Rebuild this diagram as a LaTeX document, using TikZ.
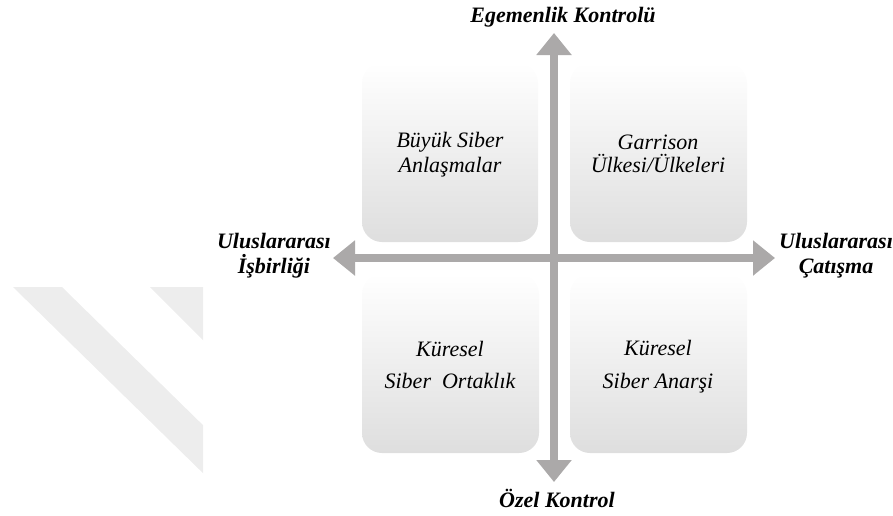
\documentclass[tikz,border=0pt]{standalone}
\usepackage{fontspec}
\setmainfont{Liberation Serif}
\usetikzlibrary{arrows.meta}

\definecolor{axisgray}{RGB}{171,169,169}
\definecolor{boxgray}{RGB}{222,222,222}
\definecolor{markgray}{RGB}{237,237,237}

\tikzset{
  quadbox/.style={rounded corners=20pt, top color=white, middle color=white,
    bottom color=boxgray, draw=none},
  quadtext/.style={align=center, font=\fontsize{22}{25}\selectfont\itshape,
    inner sep=0pt},
  axislabel/.style={align=center, font=\fontsize{22}{25}\selectfont\bfseries\itshape,
    inner sep=0pt},
  axisarrow/.style={draw=axisgray, line width=8.5pt,
    arrows={Triangle[width=34pt,length=22pt,fill=axisgray]-Triangle[width=34pt,length=22pt,fill=axisgray]}},
}

\begin{document}
\begin{tikzpicture}[x=1pt,y=-1pt]
\useasboundingbox (0,0) rectangle (893,515);

% faint diagonal bands on the left
\begin{scope}
  \clip (0,0) rectangle (203,515);
  \fill[markgray] (13,287) -- (62,287) -- (260,481) -- (211,481) -- cycle;
  \fill[markgray] (150,287) -- (230,287) -- (290,347) -- (210,347) -- cycle;
\end{scope}

% quadrant panels
\path[quadbox] (362,63) rectangle (538,242);
\path[quadbox] (570,63) rectangle (747,242);
\path[quadbox] (362,274) rectangle (539,453);
\path[quadbox] (570,274) rectangle (747,453);

\node[quadtext] (tl) at (450,155) {Büyük Siber\\Anlaşmalar};
\node[quadtext, font=\fontsize{22}{23}\selectfont\itshape] (tr) at (658,154) {Garrison\\Ülkesi/Ülkeleri};
\node[quadtext, font=\fontsize{22}{32}\selectfont\itshape] (bl) at (450,365) {Küresel\\Siber\ \ Ortaklık};
\node[quadtext, font=\fontsize{22}{33}\selectfont\itshape] (br) at (658,367) {Küresel\\Siber Anarşi};

% axis end points
\coordinate (top) at (554,33);
\coordinate (bottom) at (554,482);
\coordinate (left) at (333,258);
\coordinate (right) at (775,258);

\draw[axisarrow] (bottom) -- (top);
\draw[axisarrow] (left) -- (right);

% axis labels
\node[axislabel] (sov) at (563,17) {Egemenlik Kontrolü};
\node[axislabel] (priv) at (557,498) {Özel Kontrol};
\node[axislabel, anchor=east] (coop) at (331,256) {Uluslararası\\İşbirliği};
\node[axislabel, anchor=west] (conf) at (779,256) {Uluslararası\\Çatışma};
\end{tikzpicture}
\end{document}
